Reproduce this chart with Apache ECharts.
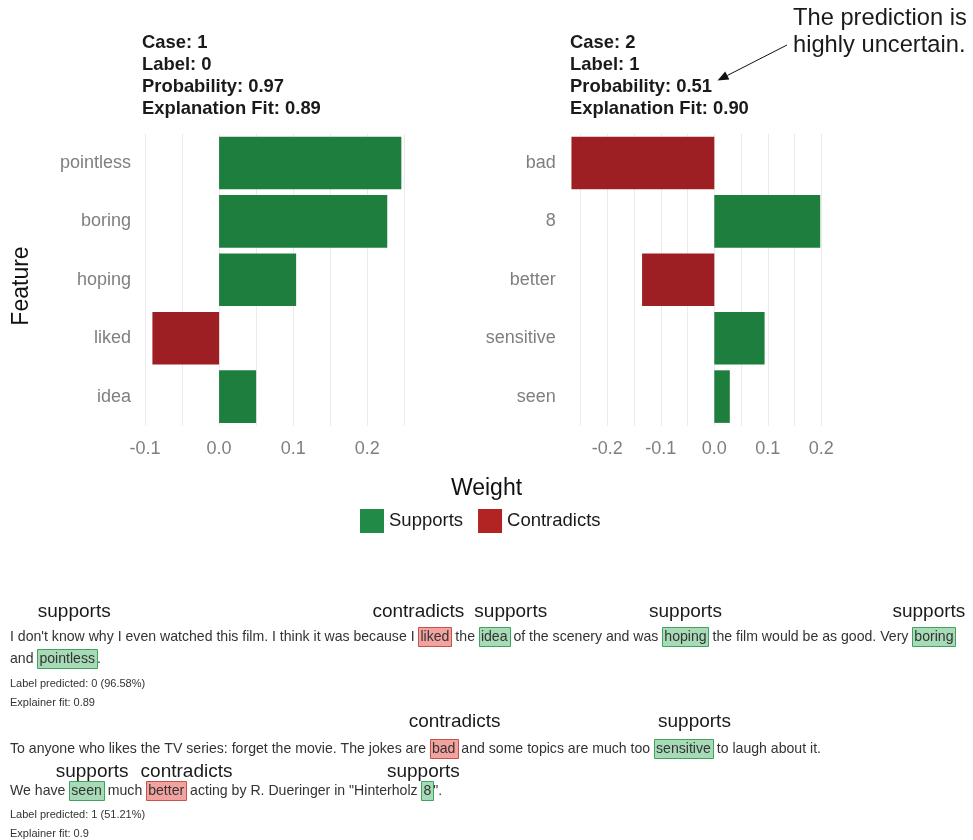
<!DOCTYPE html>
<html>
<head>
<meta charset="utf-8">
<script src="https://cdn.jsdelivr.net/npm/echarts@6/dist/echarts.min.js"></script>
<style>
  html, body { margin: 0; padding: 0; background: #ffffff; }
  #chart { width: 973px; height: 840px; }
</style>
</head>
<body>
<div id="chart"></div>
<script>
// ---- explained cases ----
const caseIds = [1, 2];
const caseLabels = [0, 1];
const predictedProbabilities = [0.9658, 0.5121];
const explanationFits = [0.89, 0.90];

// case 1 features (top to bottom) and their weights
const case1Features = ['pointless', 'boring', 'hoping', 'liked', 'idea'];
const case1Weights = [0.246, 0.227, 0.104, -0.090, 0.050];
const case1TickLabels = [-0.1, 0.0, 0.1, 0.2];

// case 2 features (top to bottom) and their weights
const case2Features = ['bad', '8', 'better', 'sensitive', 'seen'];
const case2Weights = [-0.267, 0.198, -0.135, 0.094, 0.029];
const case2TickLabels = [-0.2, -0.1, 0.0, 0.1, 0.2];

// review texts: paragraphs, each split into its printed lines
const case1Text = [[
  "I don't know why I even watched this film. I think it was because I liked the idea of the scenery and was hoping the film would be as good. Very boring",
  "and pointless."
]];
const case2Text = [
  ["To anyone who likes the TV series: forget the movie. The jokes are bad and some topics are much too sensitive to laugh about it."],
  ["We have seen much better acting by R. Dueringer in \"Hinterholz 8\"."]
];

const legendNames = ['Supports', 'Contradicts'];

// ---- styling ----
const GREEN = '#1e7e3e', RED = '#9e1f23';
const GREEN_KEY = '#218a47', RED_KEY = '#b22424';
const GRID_COLOR = '#ebebeb';
const AXIS_TEXT = '#7f7f7f';
const FONT = '"Liberation Sans", Arial, Helvetica, sans-serif';

const chart = echarts.init(document.getElementById('chart'), null, { renderer: 'canvas' });

function makeTickFormatter(shown) {
  return function (v) {
    const r = Math.round(v * 100) / 100;
    for (let i = 0; i < shown.length; i++) {
      if (Math.abs(shown[i] - r) < 1e-6) return (shown[i] === 0 ? 0 : shown[i]).toFixed(1);
    }
    return '';
  };
}

const panels = [
  { features: case1Features, weights: case1Weights, ticks: case1TickLabels,
    grid: { left: 145, top: 133.8, width: 259.3, height: 292 },
    min: -0.1, max: 0.25, labelMargin: 14, hideFirstGrid: false },
  { features: case2Features, weights: case2Weights, ticks: case2TickLabels,
    grid: { left: 553.8, top: 133.8, width: 267.5, height: 292 },
    min: -0.3, max: 0.2, labelMargin: -2, hideFirstGrid: true }
];

const grids = [], xAxes = [], yAxes = [], series = [];
panels.forEach((p, i) => {
  grids.push(Object.assign({ outerBoundsMode: 'none', containLabel: false }, p.grid));
  const nLines = Math.round((p.max - p.min) / 0.05) + 1;
  const lineColors = [];
  for (let k = 0; k < nLines; k++) lineColors.push(k === 0 && p.hideFirstGrid ? 'rgba(0,0,0,0)' : GRID_COLOR);
  xAxes.push({
    type: 'value', gridIndex: i, min: p.min, max: p.max, interval: 0.05,
    axisLine: { show: false }, axisTick: { show: false },
    axisLabel: { formatter: makeTickFormatter(p.ticks), color: AXIS_TEXT, fontSize: 18, fontFamily: FONT, margin: 14 },
    splitLine: { show: true, lineStyle: { color: lineColors, width: 1 } }
  });
  yAxes.push({
    type: 'category', gridIndex: i, data: p.features, inverse: true,
    axisLine: { show: false }, axisTick: { show: false }, splitLine: { show: false },
    axisLabel: { color: AXIS_TEXT, fontSize: 18, fontFamily: FONT, margin: p.labelMargin }
  });
  series.push({
    name: legendNames[0], type: 'bar', xAxisIndex: i, yAxisIndex: i,
    barGap: '-100%', barCategoryGap: '10%',
    itemStyle: { color: GREEN },
    data: p.weights.map(w => (w > 0 ? w : '-'))
  });
  series.push({
    name: legendNames[1], type: 'bar', xAxisIndex: i, yAxisIndex: i,
    barGap: '-100%', barCategoryGap: '10%',
    itemStyle: { color: RED },
    data: p.weights.map(w => (w < 0 ? w : '-'))
  });
});

// ---- text overlays ----
const els = [];
const measureCtx = document.createElement('canvas').getContext('2d');
function textWidth(s, font) { measureCtx.font = font; return measureCtx.measureText(s).width; }

// panel headers
const headerX = [142, 570];
caseIds.forEach((id, i) => {
  const lines = [
    'Case: ' + id,
    'Label: ' + caseLabels[i],
    'Probability: ' + predictedProbabilities[i].toFixed(2),
    'Explanation Fit: ' + explanationFits[i].toFixed(2)
  ];
  lines.forEach((t, j) => {
    els.push({ type: 'text', x: headerX[i], y: 43 + j * 22, silent: true,
      style: { text: t, font: 'bold 18.4px ' + FONT, fill: '#1a1a1a', align: 'left', verticalAlign: 'middle' } });
  });
});

// axis titles
els.push({ type: 'text', x: 22, y: 286, rotation: Math.PI / 2, silent: true,
  style: { text: 'Feature', font: '23px ' + FONT, fill: '#111', align: 'center', verticalAlign: 'middle' } });
els.push({ type: 'text', x: 486.5, y: 489, silent: true,
  style: { text: 'Weight', font: '23px ' + FONT, fill: '#111', align: 'center', verticalAlign: 'middle' } });

// annotation with arrow
['The prediction is', 'highly uncertain.'].forEach((t, j) => {
  els.push({ type: 'text', x: 793, y: 18 + j * 27, silent: true,
    style: { text: t, font: '23.7px ' + FONT, fill: '#1a1a1a', align: 'left', verticalAlign: 'middle' } });
});
(function () {
  const x1 = 787, y1 = 45, tx = 717.5, ty = 80.5;
  const dx = tx - x1, dy = ty - y1, len = Math.sqrt(dx * dx + dy * dy);
  const ux = dx / len, uy = dy / len, head = 11, half = 4.5;
  const bx = tx - ux * head, by = ty - uy * head;
  els.push({ type: 'line', silent: true, shape: { x1: x1, y1: y1, x2: bx, y2: by },
    style: { stroke: '#111', lineWidth: 1 } });
  els.push({ type: 'polygon', silent: true,
    shape: { points: [[tx, ty], [bx - uy * half, by + ux * half], [bx + uy * half, by - ux * half]] },
    style: { fill: '#111' } });
})();

// highlighted review texts
const TEXT_FONT = '14.1px ' + FONT;
const META_FONT = '11px ' + FONT;
const TAG_FONT = '19px ' + FONT;
const textLayout = [
  { paragraphs: [{ labelY: 612, lineY: [637, 659] }], metaY: [684, 703] },
  { paragraphs: [{ labelY: 722, lineY: [749] }, { labelY: 772, lineY: [791] }], metaY: [815, 834] }
];
// hand placement offsets of the tags above the highlighted words
const tagNudge = { pointless: 7, boring: -5, seen: 12, better: 14, bad: 11, sensitive: 11, '8': -4 };
const caseTexts = [case1Text, case2Text];
const caseFeatures = [case1Features, case2Features];
const caseWeights = [case1Weights, case2Weights];

caseTexts.forEach((paras, c) => {
  const feats = caseFeatures[c], weights = caseWeights[c];
  const re = new RegExp('\\b(' + feats.join('|') + ')\\b');
  paras.forEach((lines, pi) => {
    const lay = textLayout[c].paragraphs[pi];
    const tags = [];
    lines.forEach((line, li) => {
      const y = lay.lineY[li];
      let x = 10;
      line.split(re).forEach((piece, k) => {
        if (!piece) return;
        const w = textWidth(piece, TEXT_FONT);
        if (k % 2 === 1) {
          const wt = weights[feats.indexOf(piece)];
          const pos = wt > 0;
          const bw = w + 4;
          els.push({ type: 'rect', silent: true,
            shape: { x: Math.round(x) + 0.5, y: y - 9.5, width: Math.round(bw), height: 19 },
            style: { fill: pos ? '#a7dab6' : '#f2a3a0', stroke: pos ? '#3ea35e' : '#c9514b', lineWidth: 1 } });
          els.push({ type: 'text', x: x + 2, y: y, silent: true,
            style: { text: piece, font: TEXT_FONT, fill: '#333', align: 'left', verticalAlign: 'middle' } });
          const tag = pos ? 'supports' : 'contradicts';
          tags.push({ text: tag, word: piece, cx: x + bw / 2, w: textWidth(tag, TAG_FONT) });
          x += bw;
        } else {
          els.push({ type: 'text', x: x, y: y, silent: true,
            style: { text: piece, font: TEXT_FONT, fill: '#333', align: 'left', verticalAlign: 'middle' } });
          x += w;
        }
      });
    });
    // spread tags so neighbours do not collide
    tags.sort((a, b) => a.cx - b.cx);
    for (let k = 1; k < tags.length; k++) {
      const a = tags[k - 1], b = tags[k];
      const overlap = (a.cx + a.w / 2 + 10) - (b.cx - b.w / 2);
      if (overlap > 0) { a.cx -= overlap / 2; b.cx += overlap / 2; }
    }
    tags.forEach(t => {
      els.push({ type: 'text', x: t.cx + (tagNudge[t.word] || 0), y: lay.labelY, silent: true,
        style: { text: t.text, font: TAG_FONT, fill: '#1a1a1a', align: 'center', verticalAlign: 'middle' } });
    });
  });
  const metaLines = [
    'Label predicted: ' + caseLabels[c] + ' (' + (predictedProbabilities[c] * 100).toFixed(2) + '%)',
    'Explainer fit: ' + explanationFits[c]
  ];
  metaLines.forEach((t, j) => {
    els.push({ type: 'text', x: 10, y: textLayout[c].metaY[j], silent: true,
      style: { text: t, font: META_FONT, fill: '#333', align: 'left', verticalAlign: 'middle' } });
  });
});

chart.setOption({
  backgroundColor: '#ffffff',
  animation: false,
  grid: grids,
  xAxis: xAxes,
  yAxis: yAxes,
  legend: {
    left: 355, top: 504, icon: 'rect', itemWidth: 24, itemHeight: 24, itemGap: 15,
    textStyle: { fontSize: 18.5, fontFamily: FONT, color: '#1a1a1a' },
    data: [
      { name: legendNames[0], itemStyle: { color: GREEN_KEY } },
      { name: legendNames[1], itemStyle: { color: RED_KEY } }
    ],
    selectedMode: false
  },
  series: series,
  graphic: { elements: els }
});
</script>
</body>
</html>
